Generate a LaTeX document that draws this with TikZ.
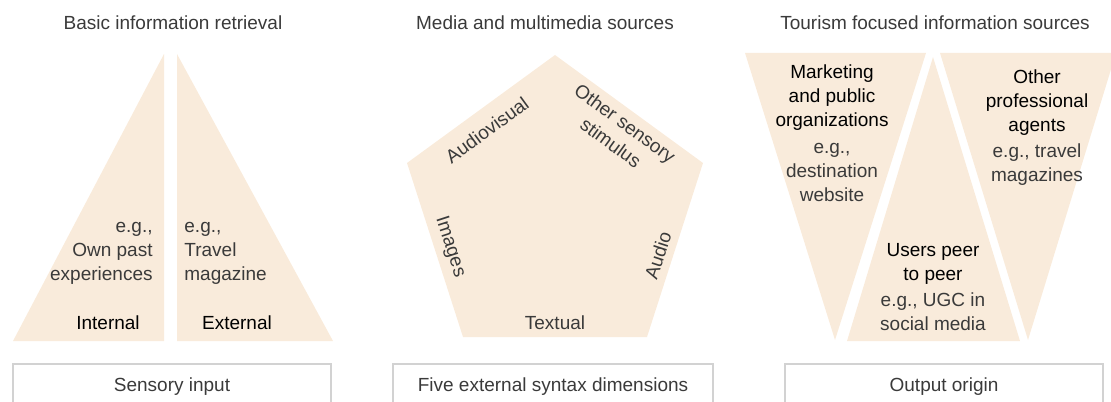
\documentclass[tikz,border=0pt]{standalone}
\usepackage{fontspec}
\setmainfont{Liberation Sans}
\definecolor{sand}{HTML}{F9EBDB}
\definecolor{frame}{HTML}{D2D2D2}
\definecolor{ink}{HTML}{3A3A3A}
\begin{document}
\begin{tikzpicture}[x=0.5pt,y=-0.5pt,
	piece/.style={fill=sand},
	lbl/.style={font=\fontsize{9.5}{12}\selectfont,text=ink,align=center,inner sep=0pt},
	key/.style={lbl,text=black},
	footbox/.style={draw=frame,line width=0.75pt,font=\fontsize{9.5}{12}\selectfont,text=ink,minimum height=23pt}]
	\useasboundingbox (0,0) rectangle (1111,401);
	% basic information retrieval
	\node[lbl] (tin) at (173,23) {Basic information retrieval};
	\fill[piece] (13,341) -- (164,54) -- (164,341) -- cycle;
	\fill[piece] (177,54) -- (177,341) -- (333,341) -- cycle;
	\node[lbl,align=right,anchor=east] (own) at (153,253) {e.g.,\\Own past\\experiences};
	\node[lbl,align=left,anchor=west] (mag) at (184,253) {e.g.,\\Travel\\magazine};
	\node[key] (int) at (108,323) {Internal};
	\node[key] (ext) at (237,323) {External};
	\node[footbox,minimum width=159pt] (sens) at (172,387) {Sensory input};
	% media and multimedia sources
	\node[lbl] (tmed) at (545,23) {Media and multimedia sources};
	\fill[piece] (555,55) -- (703,163) -- (647,337) -- (463,337) -- (407,163) -- cycle;
	\node[lbl,rotate=36] (av) at (487,130) {Audiovisual};
	\node[lbl,rotate=-36] (oth) at (618,133) {Other sensory\\stimulus};
	\node[lbl,rotate=-72] (img) at (450,247) {Images};
	\node[lbl,rotate=72] (aud) at (658,255) {Audio};
	\node[lbl] (txt) at (555,323) {Textual};
	\node[footbox,minimum width=160pt] (five) at (553,387) {Five external syntax dimensions};
	% tourism focused information sources
	\node[lbl] (ttour) at (935,23) {Tourism focused information sources};
	\fill[piece] (745,53) -- (926,53) -- (835,340) -- cycle;
	\fill[piece] (933,57) -- (1020,341) -- (847,341) -- cycle;
	\fill[piece] (940,53) -- (1116,53) -- (1028,340) -- cycle;
	\node[key] (mkt) at (832,98) {Marketing\\and public\\organizations};
	\node[lbl] (web) at (832,172) {e.g.,\\destination\\website};
	\node[key] (pro) at (1037,103) {Other\\professional\\agents};
	\node[lbl] (trv) at (1037,164.5) {e.g., travel\\magazines};
	\node[key] (usr) at (933,264) {Users peer\\to peer};
	\node[lbl] (ugc) at (933,312) {e.g., UGC in\\social media};
	\node[footbox,minimum width=159pt] (out) at (944,387) {Output origin};
\end{tikzpicture}
\end{document}
